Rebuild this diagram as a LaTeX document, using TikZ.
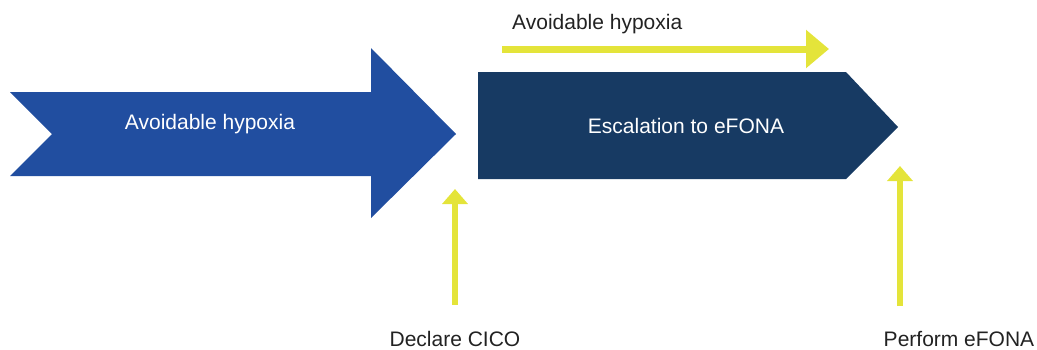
\documentclass[tikz,border=0pt]{standalone}
\usepackage{fontspec}
\setmainfont{Liberation Sans}
\usetikzlibrary{arrows.meta}
\definecolor{phaseblue}{RGB}{33,78,160}
\definecolor{phasenavy}{RGB}{23,58,99}
\definecolor{markyellow}{RGB}{228,228,58}
\definecolor{labelgray}{RGB}{34,34,34}
\tikzset{
  px/.style={x=1pt,y=-1pt},
  lbl/.style={font=\fontsize{21}{24}\selectfont,text=labelgray,anchor=base,inner sep=0pt},
  inlbl/.style={font=\fontsize{21}{24}\selectfont,text=white,anchor=base,inner sep=0pt},
  uparrow/.style={draw=markyellow,line width=5.5pt,-{Triangle[width=25pt,length=15pt]}},
  timearrow/.style={draw=markyellow,line width=7pt,-{Triangle[width=37pt,length=23pt]}}
}
\begin{document}
\begin{tikzpicture}[px]
\useasboundingbox (0,0) rectangle (1037,349);
% first phase: notched block arrow
\fill[phaseblue] (10,92) -- (371,92) -- (371,48) -- (456,134) -- (371,218)
  -- (371,176) -- (10,176) -- (52,134) -- cycle;
\node[inlbl] (hyp) at (210,129) {Avoidable hypoxia};
% second phase: pentagon arrow
\fill[phasenavy] (478,72) -- (846,72) -- (898,127) -- (846,179) -- (478,179) -- cycle;
\node[inlbl] (esc) at (686,133) {Escalation to eFONA};
% time-line arrow above the second phase
\node[lbl,anchor=base west] (hyp2) at (512,29) {Avoidable hypoxia};
\coordinate (tlA) at (502,49);
\coordinate (tlB) at (829,49);
\draw[timearrow] (tlA) -- (tlB);
% decision points (no descenders, so the boxes stop at the baseline)
\node[lbl,text depth=0pt] (cico) at (455,346) {Declare CICO};
\node[lbl,text depth=0pt] (fona) at (959,346) {Perform eFONA};
\coordinate (cicoA) at (455,305);
\coordinate (cicoB) at (455,189);
\coordinate (fonaA) at (900,306);
\coordinate (fonaB) at (900,166);
\draw[uparrow] (cicoA) -- (cicoB);
\draw[uparrow] (fonaA) -- (fonaB);
\end{tikzpicture}
\end{document}
